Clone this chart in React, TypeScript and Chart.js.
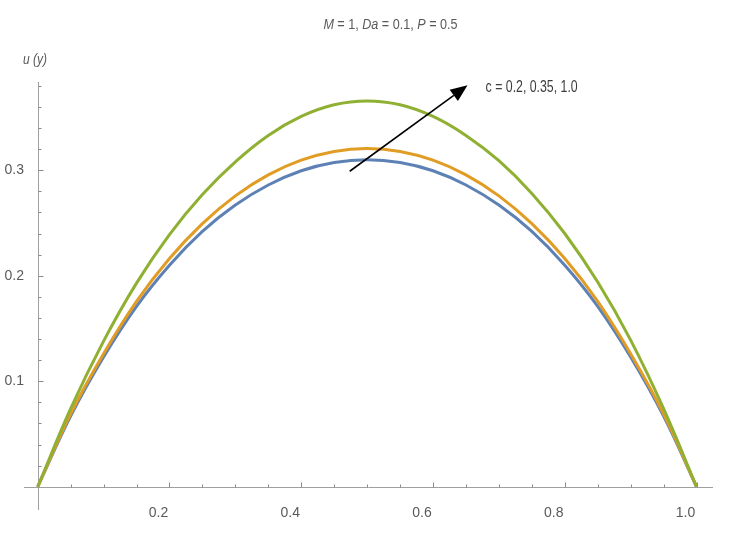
import { useEffect, useRef } from "react";
import { Chart, registerables } from "chart.js";

Chart.register(...registerables);

// ---------- data ----------
const yPositions = [0, 0.05, 0.1, 0.15, 0.2, 0.25, 0.3, 0.35, 0.4, 0.45, 0.5, 0.55, 0.6, 0.65, 0.7, 0.75, 0.8, 0.85, 0.9, 0.95, 1.0];
const uC020 = [0, 0.067, 0.123, 0.171, 0.210, 0.242, 0.267, 0.286, 0.2995, 0.3073, 0.310, 0.3073, 0.2995, 0.286, 0.267, 0.242, 0.210, 0.171, 0.123, 0.067, 0];
const uC035 = [0, 0.069, 0.126, 0.1757, 0.2163, 0.2494, 0.2757, 0.2956, 0.3095, 0.3178, 0.3205, 0.3178, 0.3095, 0.2956, 0.2757, 0.2494, 0.2163, 0.1757, 0.126, 0.069, 0];
const uC100 = [0, 0.074, 0.138, 0.193, 0.239, 0.277, 0.308, 0.333, 0.351, 0.362, 0.3656, 0.362, 0.351, 0.333, 0.309, 0.278, 0.240, 0.194, 0.139, 0.074, 0];
const seriesLabels = ["c = 0.2", "c = 0.35", "c = 1.0"];

const xTickValues = [0.2, 0.4, 0.6, 0.8, 1.0];
const yTickValues = [0.1, 0.2, 0.3];
const xMinorTicks = [0.05, 0.1, 0.15, 0.2, 0.25, 0.3, 0.35, 0.4, 0.45, 0.5, 0.55, 0.6, 0.65, 0.7, 0.75, 0.8, 0.85, 0.9, 0.95, 1.0];
const yMinorTicks = [0.02, 0.04, 0.06, 0.08, 0.1, 0.12, 0.14, 0.16, 0.18, 0.2, 0.22, 0.24, 0.26, 0.28, 0.3, 0.32, 0.34, 0.36, 0.38];

const titleParts: [string, boolean][] = [
  ["M", true], [" = 1, ", false], ["Da", true], [" = 0.1, ", false], ["P", true], [" = 0.5", false],
];
const axisLabelText = "u (y)";
const annotationText = "c = 0.2, 0.35, 1.0";
const arrowFrom = { x: 0.4736, y: 0.299 };
const arrowTo = { x: 0.6524, y: 0.3805 };
const titleAnchor = { x: 0.5354, y: 0.4378 };
const axisLabelAnchor = { x: -0.0223, y: 0.4042 };
const annotationAnchor = { x: 0.6798, y: 0.3781 };
const yAxisBottomValue = -0.0221;

// ---------- style ----------
const FONT = '"Liberation Sans", Arial, sans-serif';
const COLORS = ["#5e81b5", "#e19c24", "#8fb032"];
const AXIS_COLOR = "#a0a0a0";
const TEXT_COLOR = "#5a5a5a";

function drawCondensed(ctx: any, text: string, x: number, y: number, squeeze: number) {
  ctx.save();
  ctx.translate(x, y);
  ctx.scale(squeeze, 1);
  ctx.fillText(text, 0, 0);
  ctx.restore();
}

const mathPlugin = {
  id: "mathAxes",
  beforeDatasetsDraw(chart: any) {
    const { ctx, chartArea, scales } = chart;
    const xs = scales.x;
    const ys = scales.y;
    const x0 = Math.round(xs.getPixelForValue(0)) + 0.5;
    const y0 = Math.round(ys.getPixelForValue(0)) + 0.5;
    ctx.save();
    ctx.strokeStyle = AXIS_COLOR;
    ctx.lineWidth = 1;
    ctx.beginPath();
    ctx.moveTo(chartArea.left, y0);
    ctx.lineTo(chartArea.right, y0);
    ctx.moveTo(x0, chartArea.top);
    ctx.lineTo(x0, ys.getPixelForValue(yAxisBottomValue));
    ctx.stroke();
    ctx.strokeStyle = "#8a8a8a";
    ctx.beginPath();
    xMinorTicks.forEach((v) => {
      const major = xTickValues.some((m) => Math.abs(m - v) < 1e-9);
      const px = Math.round(xs.getPixelForValue(v)) + 0.5;
      ctx.moveTo(px, y0);
      ctx.lineTo(px, y0 - (major ? 5 : 3));
    });
    yMinorTicks.forEach((v) => {
      const major = yTickValues.some((m) => Math.abs(m - v) < 1e-9);
      const py = Math.round(ys.getPixelForValue(v)) + 0.5;
      ctx.moveTo(x0, py);
      ctx.lineTo(x0 + (major ? 5 : 3), py);
    });
    ctx.stroke();
    ctx.restore();
  },
  afterDraw(chart: any) {
    const { ctx, scales } = chart;
    const xs = scales.x;
    const ys = scales.y;
    ctx.save();
    // title
    const sq = 0.9;
    ctx.fillStyle = TEXT_COLOR;
    ctx.textBaseline = "middle";
    ctx.textAlign = "left";
    const fontFor = (it: boolean) => `${it ? "italic " : ""}14px ${FONT}`;
    let total = 0;
    titleParts.forEach(([t, it]) => {
      ctx.font = fontFor(it);
      total += ctx.measureText(t).width * sq;
    });
    let tx = xs.getPixelForValue(titleAnchor.x) - total / 2;
    const ty = ys.getPixelForValue(titleAnchor.y);
    titleParts.forEach(([t, it]) => {
      ctx.font = fontFor(it);
      drawCondensed(ctx, t, tx, ty, sq);
      tx += ctx.measureText(t).width * sq;
    });
    // axis label
    ctx.font = `italic 15px ${FONT}`;
    drawCondensed(ctx, axisLabelText, xs.getPixelForValue(axisLabelAnchor.x), ys.getPixelForValue(axisLabelAnchor.y), 0.8);
    // arrow
    const ax1 = xs.getPixelForValue(arrowFrom.x);
    const ay1 = ys.getPixelForValue(arrowFrom.y);
    const ax2 = xs.getPixelForValue(arrowTo.x);
    const ay2 = ys.getPixelForValue(arrowTo.y);
    const ang = Math.atan2(ay2 - ay1, ax2 - ax1);
    const headLen = 17;
    const headHalf = 7;
    const bx = ax2 - headLen * Math.cos(ang);
    const by = ay2 - headLen * Math.sin(ang);
    ctx.strokeStyle = "#000";
    ctx.fillStyle = "#000";
    ctx.lineWidth = 1.6;
    ctx.beginPath();
    ctx.moveTo(ax1, ay1);
    ctx.lineTo(bx, by);
    ctx.stroke();
    ctx.beginPath();
    ctx.moveTo(ax2, ay2);
    ctx.lineTo(bx + headHalf * Math.sin(ang), by - headHalf * Math.cos(ang));
    ctx.lineTo(bx - headHalf * Math.sin(ang), by + headHalf * Math.cos(ang));
    ctx.closePath();
    ctx.fill();
    // annotation
    ctx.fillStyle = "#3c3c3c";
    ctx.font = `16px ${FONT}`;
    ctx.textBaseline = "middle";
    drawCondensed(ctx, annotationText, xs.getPixelForValue(annotationAnchor.x), ys.getPixelForValue(annotationAnchor.y), 0.77);
    ctx.restore();
  },
};

export default function App() {
  const canvasRef = useRef<HTMLCanvasElement | null>(null);

  useEffect(() => {
    if (!canvasRef.current) return;
    const series = [uC020, uC035, uC100];
    const chart = new Chart(canvasRef.current, {
      type: "line",
      data: {
        datasets: series.map((s, i) => ({
          label: seriesLabels[i],
          data: yPositions.map((x, j) => ({ x, y: s[j] })),
          borderColor: COLORS[i],
          borderWidth: 3,
          pointRadius: 0,
          fill: false,
          tension: 0.4,
          order: 3 - i,
          clip: 6,
        })),
      },
      options: {
        animation: false,
        responsive: true,
        maintainAspectRatio: false,
        layout: { padding: { top: 82, right: 20, left: 0, bottom: 0 } },
        plugins: {
          legend: { display: false },
          tooltip: { enabled: false },
          title: { display: false },
        },
        scales: {
          x: {
            type: "linear",
            min: -0.0208,
            max: 1.025,
            grid: { display: false, drawTicks: false },
            border: { display: false },
            ticks: {
              color: TEXT_COLOR,
              font: { family: FONT, size: 14 },
              padding: 2,
              labelOffset: -11,
              maxRotation: 0,
              callback: (v: any) => Number(v).toFixed(1),
            },
            afterBuildTicks: (s: any) => {
              s.ticks = xTickValues.map((value) => ({ value }));
            },
            afterFit: (s: any) => {
              s.height = 36;
              s.paddingLeft = 0;
              s.paddingRight = 0;
            },
          },
          y: {
            type: "linear",
            min: -0.0154,
            max: 0.3836,
            grid: { display: false, drawTicks: false },
            border: { display: false },
            ticks: {
              color: TEXT_COLOR,
              font: { family: FONT, size: 14 },
              padding: 0,
              callback: (v: any) => Number(v).toFixed(1),
            },
            afterBuildTicks: (s: any) => {
              s.ticks = yTickValues.map((value) => ({ value }));
            },
            afterFit: (s: any) => {
              s.width = 24;
              s.paddingTop = 0;
              s.paddingBottom = 0;
            },
          },
        },
      },
      plugins: [mathPlugin],
    });
    return () => chart.destroy();
  }, []);

  return (
    <div style={{ position: "fixed", left: 0, top: 0, width: 733, height: 539, background: "#fff" }}>
      <canvas ref={canvasRef} />
    </div>
  );
}
